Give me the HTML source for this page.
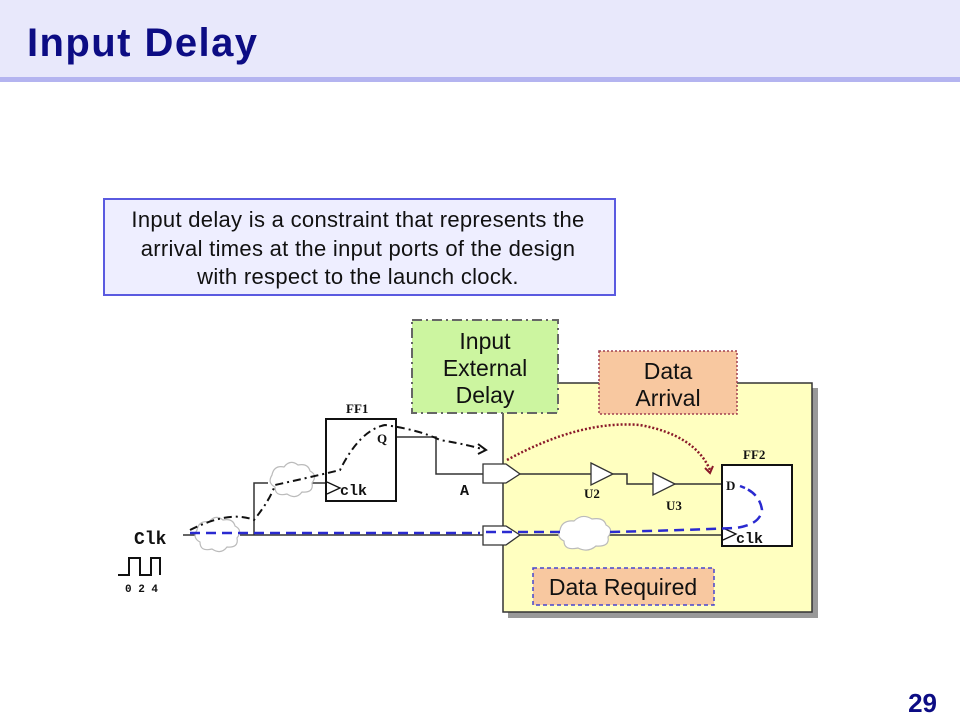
<!DOCTYPE html>
<html><head><style>
body{margin:0;width:960px;height:720px;background:#fff;overflow:hidden;font-family:"Liberation Sans",sans-serif}
</style></head><body>
<svg width="960" height="720" xmlns="http://www.w3.org/2000/svg" font-family="Liberation Sans, sans-serif">
<rect x="0" y="0" width="960" height="78" fill="#e8e8fb"/>
<rect x="0" y="77" width="960" height="5" fill="#b4b4f0"/>
<text x="27" y="56" font-size="40" font-weight="bold" fill="#0c0c84" textLength="230">Input Delay</text>
<text x="937" y="712" font-size="26" font-weight="bold" fill="#0c0c84" text-anchor="end">29</text>

<rect x="104" y="199" width="511" height="96" fill="#eeeeff" stroke="#5a5ae0" stroke-width="2"/>
<g font-size="22" fill="#111" text-anchor="middle" letter-spacing="0.3">
<text x="358" y="227">Input delay is a constraint that represents the</text>
<text x="358" y="256">arrival times at the input ports of the design</text>
<text x="358" y="284">with respect to the launch clock.</text>
</g>

<rect x="508" y="388" width="310" height="230" fill="#999"/>
<rect x="503" y="383" width="309" height="229" fill="#ffffc0" stroke="#333" stroke-width="1.5"/>

<rect x="412" y="320" width="146" height="93" fill="#ccf5a0" stroke="#666" stroke-width="2" stroke-dasharray="10,4,2,4"/>
<g font-size="23" fill="#111" text-anchor="middle">
<text x="485" y="349">Input</text><text x="485" y="376">External</text><text x="485" y="403">Delay</text>
</g>
<rect x="599" y="351" width="138" height="63" fill="#f8c8a0" stroke="#a04050" stroke-width="1.5" stroke-dasharray="2,2"/>
<g font-size="23" fill="#111" text-anchor="middle">
<text x="668" y="379">Data</text><text x="668" y="406">Arrival</text>
</g>
<rect x="533" y="568" width="181" height="37" fill="#f8c8a0" stroke="#4646d0" stroke-width="1.5" stroke-dasharray="4,3"/>
<text x="623" y="595" font-size="23" fill="#111" text-anchor="middle">Data Required</text>

<g stroke="#333" stroke-width="1.5" fill="none">
<path d="M183 535 H195"/>
<path d="M240 535 H483"/>
<path d="M254 535 V483 H268"/>
<path d="M311 483 H326"/>
<path d="M396 437 H436 V474 H483"/>
<path d="M520 474 H591"/>
<path d="M613 474 H627 V484 H653"/>
<path d="M674 484 H722"/>
<path d="M520 535 H722"/>
</g>
<g fill="#fff" stroke="#333" stroke-width="1.3">
<path d="M483 464 H506 L520 474 L506 483 H483 Z"/>
<path d="M483 526 H506 L520 535 L506 545 H483 Z"/>
<path d="M591 463 L613 474 L591 485 Z"/>
<path d="M653 473 L675 484 L653 495 Z"/>
</g>
<g fill="#fff" stroke="#bbb" stroke-width="1.2">
<path d="M197 530 q2-10 12-8 q6-8 14-2 q10-2 12 6 q8 4 2 12 q2 10-10 9 q-6 8-15 2 q-12 3-12-7 q-8-4-3-12z"/>
<path d="M272 475 q2-10 12-8 q6-8 14-2 q10-2 12 6 q8 4 2 12 q2 10-10 9 q-6 8-15 2 q-12 3-12-7 q-8-4-3-12z"/>
<path d="M560 530 q2-10 14-9 q8-8 18-2 q12-2 14 6 q8 4 2 12 q2 10-12 9 q-8 7-18 2 q-14 3-14-7 q-8-4-4-11z"/>
</g>
<rect x="326" y="419" width="70" height="82" fill="#fff" stroke="#111" stroke-width="2"/>
<rect x="722" y="465" width="70" height="81" fill="#fff" stroke="#111" stroke-width="2"/>
<g stroke="#111" stroke-width="1.3" fill="none">
<path d="M327 482 L340 488 L327 494"/>
<path d="M723 528 L736 534 L723 540"/>
</g>
<g font-family="Liberation Serif, serif" font-weight="bold" font-size="13" fill="#111">
<text x="346" y="413">FF1</text>
<text x="743" y="459">FF2</text>
<text x="377" y="443">Q</text>
<text x="726" y="490">D</text>
<text x="584" y="498">U2</text>
<text x="666" y="510">U3</text>
</g>
<g font-family="Liberation Mono, monospace" font-weight="bold" font-size="15" fill="#111">
<text x="340" y="495">clk</text>
<text x="736" y="543">clk</text>
<text x="460" y="495">A</text>
<text x="134" y="544" font-size="18">Clk</text>
<text x="125" y="592" font-size="11">0 2 4</text>
</g>
<path d="M118 575 H129 V558 H140 V575 H151 V558 H160 V575" stroke="#111" stroke-width="2" fill="none"/>

<path d="M190 530 Q230 510 254 520 Q270 500 275 485 Q320 475 340 470 Q360 430 385 425 Q420 430 440 440 Q470 445 485 450" stroke="#111" stroke-width="2" fill="none" stroke-dasharray="8,4,2,4"/>
<path d="M478 444 L486 450 L478 454" stroke="#111" stroke-width="2" fill="none"/>
<path d="M507 460 Q580 420 640 425 Q695 435 710 470" stroke="#8a1a2a" stroke-width="2.5" fill="none" stroke-dasharray="2,2"/>
<path d="M705 468 L710 473 L713 466" stroke="#8a1a2a" stroke-width="2" fill="none"/>
<path d="M190 533 H480 M486 532 H560 M610 532 Q690 530 735 528 Q760 525 762 510 Q760 495 745 488" stroke="#2a2ad0" stroke-width="2.5" fill="none" stroke-dasharray="10,6"/>
<path d="M745 488 L740 486" stroke="#2a2ad0" stroke-width="2.5"/>
</svg>
</body></html>
